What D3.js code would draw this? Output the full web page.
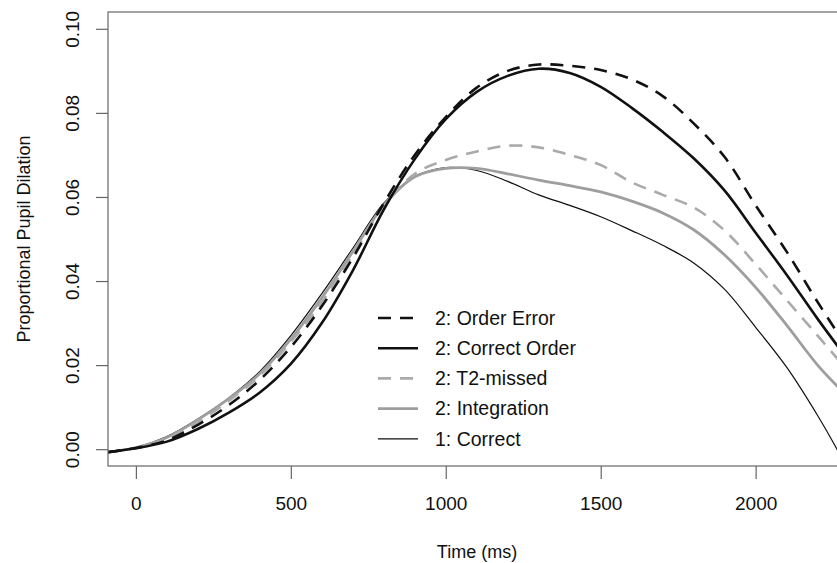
<!DOCTYPE html>
<html lang="en">
<head>
    <meta charset="UTF-8">
    <title>Proportional Pupil Dilation</title>
    <script src="https://cdn.jsdelivr.net/npm/d3@7"></script>
    <style>
        body { margin: 0; background: #fff; }
        svg text { font-family: "Liberation Sans", Arial, sans-serif; fill: #111; }
    </style>
</head>
<body>
    <svg id="chart" width="837" height="563"></svg>
    <script>
        // time points (ms) and the five condition curves
        var times = [-90, 0, 100, 200, 300, 400, 500, 600, 700, 800, 900, 1000, 1100, 1200,
            1300, 1400, 1500, 1600, 1700, 1800, 1900, 2000, 2100, 2200, 2270];
        var orderError = [-0.0007, 0.0003, 0.0021, 0.0058, 0.0105, 0.0165, 0.0243, 0.034, 0.0455, 0.0585, 0.0700, 0.0790,
            0.0860, 0.0900, 0.0915, 0.0912, 0.0902, 0.0880, 0.0840, 0.0775, 0.0695, 0.0580, 0.0470, 0.0350, 0.0270];
        var correctOrder = [-0.0007, 0.0002, 0.0018, 0.0048, 0.0087, 0.0135, 0.0203, 0.030, 0.0425, 0.057, 0.0690, 0.0785,
            0.0850, 0.0888, 0.0905, 0.0895, 0.0862, 0.0812, 0.0755, 0.0692, 0.0615, 0.0515, 0.0415, 0.031, 0.024];
        var t2Missed = [-0.0007, 0.0003, 0.0025, 0.0065, 0.0115, 0.0175, 0.0255, 0.035, 0.0462, 0.0578, 0.0655, 0.0688,
            0.0708, 0.0722, 0.0718, 0.0700, 0.0676, 0.0635, 0.0605, 0.0575, 0.052, 0.044, 0.0355, 0.027, 0.021];
        var integration = [-0.0007, 0.0004, 0.0028, 0.007, 0.012, 0.018, 0.0262, 0.036, 0.047, 0.058, 0.0648, 0.0668,
            0.0668, 0.0655, 0.064, 0.0627, 0.0612, 0.059, 0.0562, 0.0522, 0.0462, 0.0385, 0.0295, 0.020, 0.0145];
        var correct1 = [-0.0007, 0.0004, 0.003, 0.0072, 0.0122, 0.0185, 0.027, 0.037, 0.0478, 0.0585, 0.0648, 0.0670,
            0.0663, 0.0637, 0.0605, 0.058, 0.0553, 0.052, 0.0485, 0.0443, 0.038, 0.029, 0.0195, 0.008, -0.001];

        var xTicks = [0, 500, 1000, 1500, 2000];
        var yTicks = [0, 0.02, 0.04, 0.06, 0.08, 0.10];

        var series = [
            { label: "2: Order Error", values: orderError, color: "#111", width: 2.6, dash: "13,9" },
            { label: "2: Correct Order", values: correctOrder, color: "#111", width: 2.6, dash: null },
            { label: "2: T2-missed", values: t2Missed, color: "#aaa", width: 2.6, dash: "13,9" },
            { label: "2: Integration", values: integration, color: "#9e9e9e", width: 2.8, dash: null },
            { label: "1: Correct", values: correct1, color: "#111", width: 1.2, dash: null }
        ];

        var svg = d3.select("#chart");
        var plotLeft = 108, plotTop = 12, plotRight = 861, plotBottom = 466;

        var x = d3.scaleLinear().domain([-90, 2340]).range([plotLeft, plotRight]);
        var y = d3.scaleLinear().domain([-0.004, 0.104]).range([plotBottom, plotTop]);

        svg.append("clipPath").attr("id", "plotclip")
            .append("rect").attr("x", plotLeft).attr("y", plotTop)
            .attr("width", plotRight - plotLeft).attr("height", plotBottom - plotTop);

        // curves, drawn bottom-up so the black ones sit on top
        var line = d3.line()
            .x(function (d, i) { return x(times[i]); })
            .y(function (d) { return y(d); })
            .curve(d3.curveCatmullRom.alpha(0.5));

        var plot = svg.append("g").attr("clip-path", "url(#plotclip)");
        series.slice().reverse().forEach(function (s) {
            plot.append("path")
                .attr("d", line(s.values))
                .attr("fill", "none")
                .attr("stroke", s.color)
                .attr("stroke-width", s.width)
                .attr("stroke-dasharray", s.dash);
        });

        // box
        svg.append("rect")
            .attr("x", plotLeft).attr("y", plotTop)
            .attr("width", plotRight - plotLeft).attr("height", plotBottom - plotTop)
            .attr("fill", "none").attr("stroke", "#666").attr("stroke-width", 1.2);

        // x axis
        var xAxis = svg.append("g")
            .attr("transform", "translate(0," + plotBottom + ")")
            .call(d3.axisBottom(x).tickValues(xTicks).tickSize(13).tickFormat(d3.format("d")));
        xAxis.select(".domain").remove();
        xAxis.selectAll("line").attr("stroke", "#666").attr("stroke-width", 1.2);
        xAxis.selectAll("text")
            .attr("y", 37).attr("dy", "0.35em")
            .style("font-size", "19px");

        // y axis
        var yAxis = svg.append("g")
            .attr("transform", "translate(" + plotLeft + ",0)")
            .call(d3.axisLeft(y).tickValues(yTicks).tickSize(12).tickFormat(d3.format(".2f")));
        yAxis.select(".domain").remove();
        yAxis.selectAll("line").attr("stroke", "#666").attr("stroke-width", 1.2);
        yAxis.selectAll("text")
            .attr("transform", "rotate(-90)")
            .attr("x", 0).attr("y", -36).attr("dy", "0.35em")
            .attr("text-anchor", "middle")
            .style("font-size", "19px");

        // axis titles
        svg.append("text")
            .attr("x", 477).attr("y", 552).attr("dy", "0.35em")
            .attr("text-anchor", "middle")
            .style("font-size", "18px")
            .text("Time (ms)");
        svg.append("text")
            .attr("transform", "translate(24," + (plotTop + plotBottom) / 2 + ") rotate(-90)")
            .attr("dy", "0.35em")
            .attr("text-anchor", "middle")
            .style("font-size", "18px")
            .text("Proportional Pupil Dilation");

        // legend
        var legend = svg.append("g");
        series.forEach(function (s, i) {
            var ly = 318 + i * 30.2;
            legend.append("line")
                .attr("x1", 378).attr("x2", 418)
                .attr("y1", ly).attr("y2", ly)
                .attr("stroke", s.color)
                .attr("stroke-width", s.width)
                .attr("stroke-dasharray", s.dash);
            legend.append("text")
                .attr("x", 435).attr("y", ly).attr("dy", "0.35em")
                .style("font-size", "19.5px")
                .text(s.label);
        });
    </script>
</body>
</html>
